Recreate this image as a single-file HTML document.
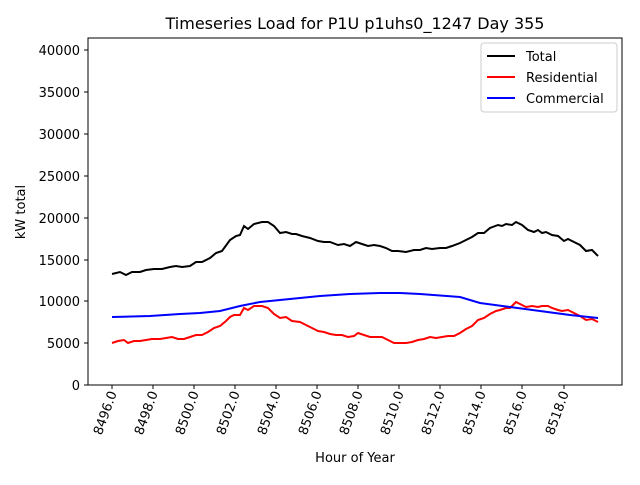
<!DOCTYPE html><html><head><style>body{margin:0;background:#fff}svg{font-family:"DejaVu Sans","Liberation Sans",sans-serif}</style></head><body>
<svg width="640" height="480" xmlns="http://www.w3.org/2000/svg">
<rect width="640" height="480" fill="#fff"/>
<text x="355" y="29" font-size="16" text-anchor="middle">Timeseries Load for P1U p1uhs0_1247  Day 355</text>
<g font-size="13" text-anchor="end">
<text x="80" y="390">0</text><text x="80" y="348">5000</text><text x="80" y="306">10000</text><text x="80" y="265">15000</text><text x="80" y="223">20000</text><text x="80" y="181">25000</text><text x="80" y="139">30000</text><text x="80" y="97">35000</text><text x="80" y="55">40000</text>
</g>
<g stroke="#000"><line x1="84" x2="88" y1="385" y2="385"/><line x1="84" x2="88" y1="343" y2="343"/><line x1="84" x2="88" y1="301" y2="301"/><line x1="84" x2="88" y1="260" y2="260"/><line x1="84" x2="88" y1="218" y2="218"/><line x1="84" x2="88" y1="176" y2="176"/><line x1="84" x2="88" y1="134" y2="134"/><line x1="84" x2="88" y1="92" y2="92"/><line x1="84" x2="88" y1="50" y2="50"/>
<line x1="112" x2="112" y1="385" y2="389"/><line x1="153" x2="153" y1="385" y2="389"/><line x1="194" x2="194" y1="385" y2="389"/><line x1="235" x2="235" y1="385" y2="389"/><line x1="276" x2="276" y1="385" y2="389"/><line x1="317" x2="317" y1="385" y2="389"/><line x1="358" x2="358" y1="385" y2="389"/><line x1="399" x2="399" y1="385" y2="389"/><line x1="440" x2="440" y1="385" y2="389"/><line x1="481" x2="481" y1="385" y2="389"/><line x1="522" x2="522" y1="385" y2="389"/><line x1="564" x2="564" y1="385" y2="389"/></g>
<g font-size="13" text-anchor="end">
<text transform="translate(117,393) rotate(-70)">8496.0</text><text transform="translate(158,393) rotate(-70)">8498.0</text><text transform="translate(199,393) rotate(-70)">8500.0</text><text transform="translate(240,393) rotate(-70)">8502.0</text><text transform="translate(281,393) rotate(-70)">8504.0</text><text transform="translate(322,393) rotate(-70)">8506.0</text><text transform="translate(363,393) rotate(-70)">8508.0</text><text transform="translate(404,393) rotate(-70)">8510.0</text><text transform="translate(445,393) rotate(-70)">8512.0</text><text transform="translate(486,393) rotate(-70)">8514.0</text><text transform="translate(527,393) rotate(-70)">8516.0</text><text transform="translate(569,393) rotate(-70)">8518.0</text>
</g>
<text x="355" y="462" font-size="13" text-anchor="middle">Hour of Year</text>
<text transform="translate(25,212) rotate(-90)" font-size="13" text-anchor="middle">kW total</text>
<g fill="none" stroke-width="2">
<polyline stroke="#000" points="112,274 120,272 126,275 132,272 140,272 146,270 154,269 162,269 170,267 176,266 182,267 190,266 196,262 202,262 210,258 216,253 222,251 230,240 236,236 240,235 244,226 248,229 254,224 262,222 268,222 274,226 280,233 286,232 292,234 296,234 302,236 310,238 318,241 324,242 330,242 338,245 344,244 350,246 356,242 362,244 368,246 374,245 380,246 386,248 392,251 398,251 406,252 414,250 420,250 426,248 432,249 440,248 446,248 452,246 460,243 466,240 472,237 478,233 484,233 490,228 498,225 502,226 506,224 512,225 516,222 522,225 528,230 534,232 538,230 542,233 546,232 552,235 558,236 564,241 568,239 574,242 580,245 586,251 592,250 598,256"/>
<polyline stroke="#f00" points="112,343 118,341 124,340 128,343 134,341 140,341 146,340 152,339 160,339 166,338 172,337 178,339 184,339 190,337 196,335 202,335 208,332 214,328 220,326 226,321 230,317 234,315 240,315 244,308 248,310 254,306 262,306 268,308 274,314 280,318 286,317 292,321 300,322 306,325 312,328 318,331 324,332 330,334 336,335 342,335 348,337 354,336 358,333 364,335 370,337 376,337 382,337 388,340 394,343 400,343 406,343 412,342 418,340 424,339 430,337 436,338 442,337 448,336 454,336 460,333 466,329 472,326 478,320 484,318 490,314 496,311 500,310 506,308 510,308 516,302 520,304 526,307 532,306 538,307 542,306 548,306 552,308 558,310 562,311 568,310 574,313 580,316 586,320 592,319 598,322"/>
<polyline stroke="#00f" points="112,317 150,316 180,314 200,313 220,311 240,306 260,302 290,299 320,296 350,294 380,293 400,293 420,294 460,297 480,303 510,307 540,311 570,315 598,318"/>
</g>
<rect x="88" y="38" width="534" height="347" fill="none" stroke="#000"/>
<rect x="481" y="43" width="136" height="69" rx="3" fill="#fff" stroke="#ccc"/>
<g stroke-width="2"><line x1="487" x2="515" y1="56" y2="56" stroke="#000"/><line x1="487" x2="515" y1="77" y2="77" stroke="#f00"/><line x1="487" x2="515" y1="98" y2="98" stroke="#00f"/></g>
<g font-size="13"><text x="526" y="61">Total</text><text x="526" y="82">Residential</text><text x="526" y="103">Commercial</text></g>
</svg></body></html>
